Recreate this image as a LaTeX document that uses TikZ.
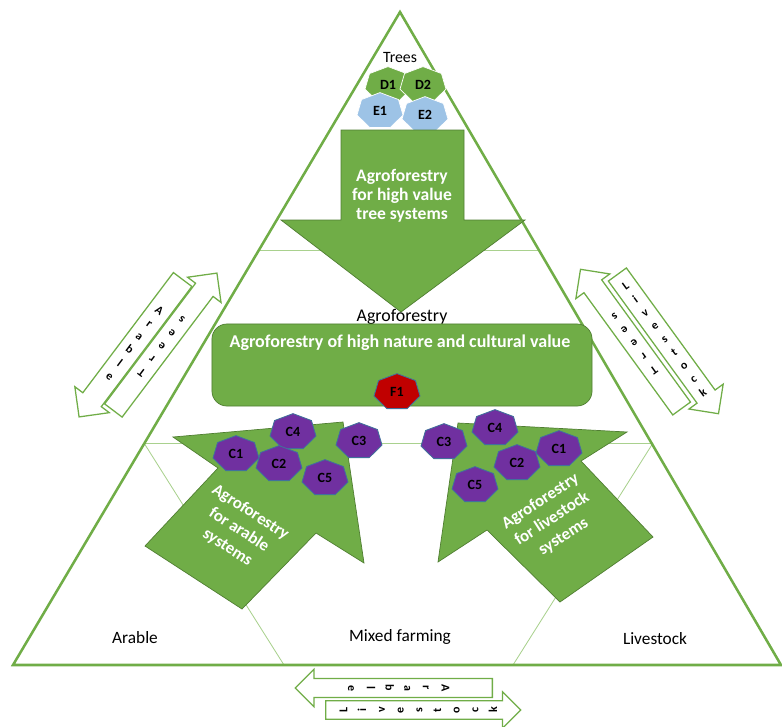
\documentclass[tikz,border=0pt]{standalone}
\usepackage{fontspec}
\setmainfont{Carlito}
\usepackage{graphicx}
\usetikzlibrary{shapes.arrows,positioning}

\definecolor{leafgreen}{HTML}{70AD47}
\definecolor{darkleaf}{HTML}{507E32}
\definecolor{palegreen}{HTML}{A9D18E}
\definecolor{skyblue}{HTML}{9DC3E6}
\definecolor{plum}{HTML}{7030A0}
\definecolor{hnvred}{HTML}{C00000}
\definecolor{edgeblue}{HTML}{41719C}

\newcommand{\stackedword}[1]{\rotatebox{90}{\begin{tabular}{@{}c@{}}#1\end{tabular}}}

\tikzset{hept/.pic={\path[pic actions] plot[samples at={0,...,6}] ({23.6*cos(270+\x*360/7)},{18.4*sin(270+\x*360/7)}) -- cycle;}}

\begin{document}
\begin{tikzpicture}[
    x=0.025cm, y=-0.025cm,
    frame/.style={draw=leafgreen, line width=1.8pt, line join=miter},
    divider/.style={draw=palegreen, line width=0.6pt},
    bigarrow/.style={fill=leafgreen, draw=darkleaf, line width=0.5pt},
    hnvbox/.style={rectangle, rounded corners=0.375cm, fill=leafgreen, draw=darkleaf, line width=0.5pt},
    arrowtext/.style={text=white, font=\fontsize{12}{15}\selectfont\bfseries, align=center},
    sidearrow/.style={single arrow, draw=leafgreen, fill=white, line width=0.9pt, single arrow head extend=0.25cm, inner xsep=1pt, inner ysep=5.2pt, minimum height=4.3cm, anchor=tail, font=\fontsize{8.5}{11.7}\selectfont\bfseries},
    flatarrow/.style={sidearrow, single arrow head extend=0.225cm, inner ysep=3.8pt, font=\fontsize{8.5}{13.3}\selectfont\bfseries},
    region/.style={font=\fontsize{12.3}{14}\selectfont},
    greenpoly/.style={fill=leafgreen, draw=white, line width=0.5pt},
    bluepoly/.style={fill=skyblue, draw=white, line width=0.5pt},
    purplepoly/.style={fill=plum, draw=edgeblue, line width=0.6pt},
    redpoly/.style={fill=hnvred, draw=edgeblue, line width=0.6pt},
    heptlabel/.style={font=\fontsize{10}{12}\selectfont\bfseries, inner sep=0pt}
]
\useasboundingbox (0,0) rectangle (782,726);

% Triangle and inner divisions
\draw[divider] (259,250) -- (539,250);
\draw[divider] (144,443) -- (653,443);
\draw[divider] (144,443) -- (284,665);
\draw[divider] (653,443) -- (513,665);
\draw[frame] (13,665) -- (400,12) -- (781,665) -- cycle;

% Two-way arrows along the sides
\node[sidearrow, rotate=233] (arableleft) at (183,279) {\stackedword{A\\r\\a\\b\\l\\e}};
\node[sidearrow, rotate=53] (treesleft) at (113,411) {\stackedword{T\\r\\e\\e\\s}};
\node[sidearrow, rotate=-54] (livestockright) at (617,274) {\stackedword{L\\i\\v\\e\\s\\t\\o\\c\\k}};
\node[sidearrow, rotate=126] (treesright) at (682,409) {\stackedword{T\\r\\e\\e\\s}};
\node[flatarrow, rotate=180, minimum height=4.925cm] (arablebottom) at (493,688) {\stackedword{A\\r\\a\\b\\l\\e}};
\node[flatarrow, minimum height=4.875cm] (livestockbottom) at (325,710) {\stackedword{L\\i\\v\\e\\s\\t\\o\\c\\k}};

% Trees corner
\node[region, font=\fontsize{11.2}{13}\selectfont] (trees) at (400,57) {Trees};
\foreach \n/\t/\s/\px/\py in {d1/D1/greenpoly/388/85, d2/D2/greenpoly/423/85, e1/E1/bluepoly/380/111, e2/E2/bluepoly/425/115} {
    \pic[\s] at (\px,\py) {hept};
    \node[heptlabel] (\n) at (\px,\py) {\t};
}
\draw[bigarrow] (341,130) -- (464,130) -- (464,220) -- (525,220) -- (401,312) -- (281,220) -- (341,220) -- cycle;
\node[arrowtext, font=\fontsize{12.5}{13.5}\selectfont\bfseries] (treetext) at (402,196) {Agroforestry\\for high value\\tree systems};

% Centre
\node[region, font=\fontsize{12.7}{14}\selectfont] (agro) at (402,317) {Agroforestry};
\node[hnvbox, minimum width=9.5cm, minimum height=2.05cm] (hnv) at (402,365) {};
\node[arrowtext, font=\fontsize{12.8}{14}\selectfont\bfseries] (hnvtitle) at (400,343) {Agroforestry of high nature and cultural value};
\pic[redpoly] at (397,392) {hept};
\node[heptlabel] (f1) at (397,392) {F1};

% Arable and livestock arrows
\draw[bigarrow] (343,422) -- (364,563) -- (316,533) -- (242,609) -- (145,546) -- (218,468) -- (173,437) -- cycle;
\draw[bigarrow] (458,423) -- (438,562) -- (487,530) -- (560,602) -- (653,537) -- (581,461) -- (627,432) -- cycle;
\node[arrowtext, rotate=-33] (arabletext) at (239,530) {Agroforestry\\for arable\\systems};
\node[arrowtext, rotate=33] (livestocktext) at (552,519) {Agroforestry\\for livestock\\systems};
\foreach \n/\t/\px/\py in {lc4/C4/293/432, lc1/C1/236/454, lc2/C2/279/464, lc5/C5/325/478, lc3/C3/359/441,
                           rc3/C3/444/442, rc4/C4/495/428, rc1/C1/559/449, rc2/C2/517/463, rc5/C5/475/485} {
    \pic[purplepoly] at (\px,\py) {hept};
    \node[heptlabel] (\n) at (\px,\py) {\t};
}

% Corner labels
\node[region] (arable) at (135,638) {Arable};
\node[region] (mixed) at (400,637) {Mixed farming};
\node[region] (livestock) at (655,639) {Livestock};

\end{tikzpicture}
\end{document}
